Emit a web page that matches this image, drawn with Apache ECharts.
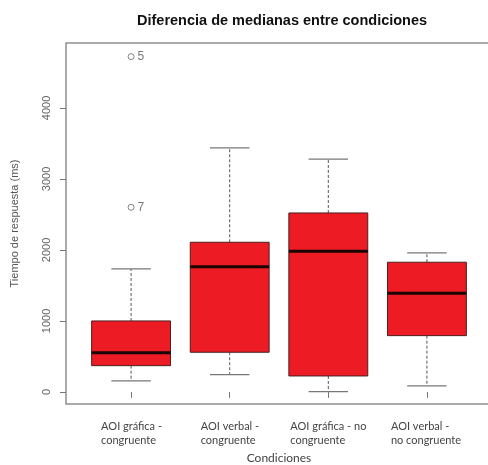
<!DOCTYPE html>
<html>
<head>
<meta charset="utf-8">
<script src="https://cdn.jsdelivr.net/npm/echarts@6/dist/echarts.min.js"></script>
<style>
  html, body { margin: 0; padding: 0; background: #fff; }
  #chart { width: 488px; height: 465px; }
</style>
</head>
<body>
<div id="chart"></div>
<script>
// categorias en el eje x
const categories = [
  'AOI gráfica -\ncongruente',
  'AOI verbal -\ncongruente',
  'AOI gráfica - no\ncongruente',
  'AOI verbal -\nno congruente'
]
const positions = [1, 2, 3, 4]

// [minimo, Q1, mediana, Q3, maximo]
const lowWhisker = [155, 244, 5, 85]
const q1 = [370, 559, 225, 793]
const medians = [553, 1765, 1982, 1390]
const q3 = [1000, 2108, 2521, 1827]
const highWhisker = [1732, 3437, 3278, 1958]

// valores atipicos
const outlierX = [1, 1]
const outlierY = [4723, 2601]
const outlierIds = ['5', '7']

const yTicks = [0, 1000, 2000, 3000, 4000]

const labelWidths = [60, 58, 76, 72]

const boxData = positions.map((p, i) => [p, lowWhisker[i], q1[i], medians[i], q3[i], highWhisker[i]])
const outlierData = outlierX.map((x, i) => [x, outlierY[i], outlierIds[i]])

const chart = echarts.init(document.getElementById('chart'))

const renderBox = (params, api) => {
  const x = api.value(0)
  const half = api.size([0.4, 0])[0]
  const cap = api.size([0.2, 0])[0]
  const pLow = api.coord([x, api.value(1)])
  const pQ1 = api.coord([x, api.value(2)])
  const pMed = api.coord([x, api.value(3)])
  const pQ3 = api.coord([x, api.value(4)])
  const pHigh = api.coord([x, api.value(5)])
  const cx = pMed[0]
  const dashed = { stroke: '#555', lineWidth: 1, lineDash: [3, 2] }
  const solid = { stroke: '#777', lineWidth: 1.2 }
  return {
    type: 'group',
    children: [
      { type: 'line', shape: { x1: cx, y1: pQ3[1], x2: cx, y2: pHigh[1] }, style: dashed },
      { type: 'line', shape: { x1: cx, y1: pQ1[1], x2: cx, y2: pLow[1] }, style: dashed },
      { type: 'line', shape: { x1: cx - cap, y1: pHigh[1], x2: cx + cap, y2: pHigh[1] }, style: solid },
      { type: 'line', shape: { x1: cx - cap, y1: pLow[1], x2: cx + cap, y2: pLow[1] }, style: solid },
      {
        type: 'rect',
        shape: { x: cx - half, y: pQ3[1], width: half * 2, height: pQ1[1] - pQ3[1] },
        style: { fill: '#ed1c24', stroke: '#4a2020', lineWidth: 1 }
      },
      { type: 'line', shape: { x1: cx - half, y1: pMed[1], x2: cx + half, y2: pMed[1] }, style: { stroke: '#1a0505', lineWidth: 3 } }
    ]
  }
}

const rich = {}
labelWidths.forEach((w, i) => {
  rich['c' + i] = {
    width: w,
    align: 'left',
    fontFamily: 'Lato',
    fontSize: 11,
    lineHeight: 14,
    color: '#444'
  }
})

chart.setOption({
  animation: false,
  title: {
    text: 'Diferencia de medianas entre condiciones',
    left: 132,
    top: 8,
    textStyle: { fontFamily: 'Liberation Sans', fontWeight: 'bold', fontSize: 14.5, color: '#111' }
  },
  grid: {
    left: 66,
    width: 426,
    top: 43,
    height: 361,
    outerBoundsMode: 'none',
    show: true,
    borderColor: '#8f8f8f',
    borderWidth: 1.5
  },
  xAxis: {
    type: 'value',
    min: 0.34,
    max: 4.66,
    name: 'Condiciones',
    nameLocation: 'middle',
    nameGap: 48,
    nameTextStyle: { fontFamily: 'Lato', fontSize: 12, color: '#444' },
    axisLine: { show: false },
    splitLine: { show: false },
    axisTick: { show: true, length: 6, customValues: positions, lineStyle: { color: '#777' } },
    axisLabel: {
      customValues: positions,
      margin: 15,
      formatter: (v) => {
        const i = positions.indexOf(v)
        return '{c' + i + '|' + categories[i] + '}'
      },
      rich: rich
    }
  },
  yAxis: {
    type: 'value',
    min: -170,
    max: 4915,
    name: 'Tiempo de respuesta (ms)',
    nameLocation: 'middle',
    nameGap: 46,
    nameTextStyle: { fontFamily: 'Liberation Sans', fontSize: 11, color: '#555' },
    axisLine: { show: false },
    splitLine: { show: false },
    axisTick: { show: true, length: 6, customValues: yTicks, lineStyle: { color: '#777' } },
    axisLabel: {
      customValues: yTicks,
      rotate: 90,
      margin: 14,
      fontFamily: 'Liberation Sans',
      fontSize: 11,
      color: '#666',
      formatter: (v) => String(v)
    }
  },
  series: [
    {
      type: 'custom',
      data: boxData,
      encode: { x: 0, y: [1, 2, 3, 4, 5] },
      renderItem: renderBox
    },
    {
      type: 'scatter',
      data: outlierData,
      symbol: 'circle',
      symbolSize: 6,
      itemStyle: { color: '#fff', borderColor: '#666', borderWidth: 1 },
      label: {
        show: true,
        position: 'right',
        distance: 3,
        formatter: (p) => p.value[2],
        fontFamily: 'Liberation Sans',
        fontSize: 12,
        color: '#555'
      }
    }
  ]
})
</script>
</body>
</html>
